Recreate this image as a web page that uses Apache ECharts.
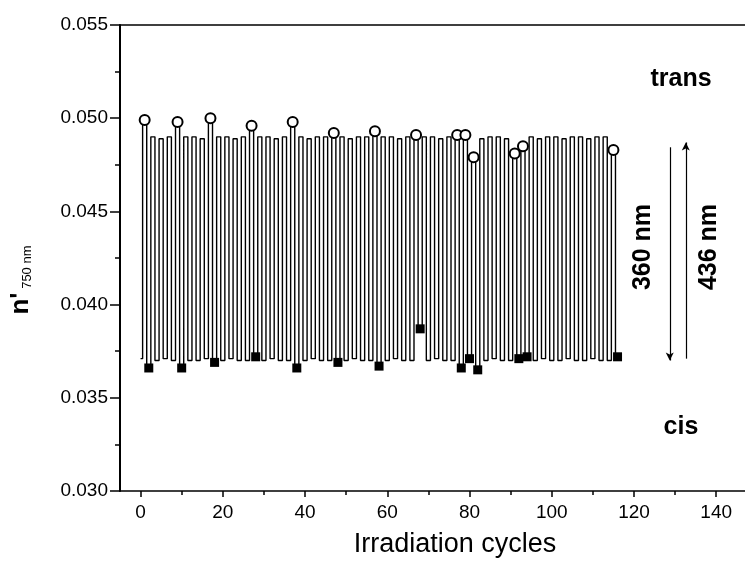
<!DOCTYPE html>
<html>
<head>
<meta charset="UTF-8">
<title>n' 750 nm vs irradiation cycles</title>
<script src="https://cdn.jsdelivr.net/npm/echarts@6/dist/echarts.min.js"></script>
<style>
  html, body { margin: 0; padding: 0; background: #fff; }
  #chart { width: 745px; height: 561px; }
</style>
</head>
<body>
<div id="chart"></div>
<script>
// trans readings (odd cycles 1, 3, ... 115)
var highValues = [
  0.0499, 0.0490, 0.0489, 0.0490, 0.0498, 0.0490, 0.0490, 0.0489, 0.0500, 0.0490,
  0.0490, 0.0489, 0.0490, 0.0496, 0.0490, 0.0490, 0.0489, 0.0490, 0.0498, 0.0490,
  0.0489, 0.0490, 0.0490, 0.0492, 0.0490, 0.0489, 0.0490, 0.0490, 0.0493, 0.0490,
  0.0490, 0.0489, 0.0490, 0.0491, 0.0490, 0.0490, 0.0489, 0.0490, 0.0491, 0.0491,
  0.0479, 0.0489, 0.0490, 0.0490, 0.0489, 0.0481, 0.0485, 0.0490, 0.0489, 0.0490,
  0.0490, 0.0489, 0.0490, 0.0490, 0.0489, 0.0490, 0.0490, 0.0483
];
// cis readings (even cycles 0, 2, ... 116)
var lowValues = [
  0.0371, 0.0366, 0.0370, 0.0371, 0.0370, 0.0366, 0.0370, 0.0370, 0.0371, 0.0369,
  0.0370, 0.0371, 0.0370, 0.0370, 0.0372, 0.0370, 0.0371, 0.0370, 0.0370, 0.0366,
  0.0370, 0.0371, 0.0370, 0.0370, 0.0369, 0.0370, 0.0371, 0.0370, 0.0370, 0.0367,
  0.0370, 0.0371, 0.0370, 0.0370, 0.0387, 0.0370, 0.0371, 0.0370, 0.0370, 0.0366,
  0.0371, 0.0365, 0.0370, 0.0371, 0.0370, 0.0370, 0.0371, 0.0372, 0.0370, 0.0371,
  0.0370, 0.0370, 0.0371, 0.0370, 0.0370, 0.0371, 0.0370, 0.0370, 0.0372
];
// cycles where a symbol is drawn
var transCycles = [1, 9, 17, 27, 37, 47, 57, 67, 77, 79, 81, 91, 93, 115];
var cisCycles = [2, 10, 18, 28, 38, 48, 58, 68, 78, 80, 82, 92, 94, 116];
var xTickLabels = [0, 20, 40, 60, 80, 100, 120, 140];
var xMinorTicks = [10, 30, 50, 70, 90, 110, 130];

var lineData = [];
for (var c = 0; c <= 116; c++) {
  if (c % 2 == 0) lineData.push([c, lowValues[c / 2]]);
  else lineData.push([c, highValues[(c - 1) / 2]]);
}
var transData = transCycles.map(function (c) { return [c, highValues[(c - 1) / 2]]; });
var cisData = cisCycles.map(function (c) { return [c, lowValues[c / 2]]; });

var FONT = '"Liberation Sans", Arial, sans-serif';
var chart = echarts.init(document.getElementById('chart'));

chart.setOption({
  animation: false,
  grid: { left: 120, right: 0, top: 25, bottom: 70, containLabel: false, outerBoundsMode: 'none' },
  xAxis: [{
    type: 'value', min: -5, max: 147, position: 'bottom',
    splitLine: { show: false },
    axisLine: { show: true, onZero: false, lineStyle: { color: '#000', width: 1.5 } },
    axisTick: { show: true, inside: false, length: 6, customValues: xTickLabels, lineStyle: { color: '#000', width: 1.5 } },
    axisLabel: { show: true, customValues: xTickLabels, color: '#000', fontSize: 19, fontFamily: FONT, margin: 12 },
    name: 'Irradiation cycles', nameLocation: 'middle', nameGap: 40,
    nameTextStyle: { color: '#000', fontSize: 27, fontFamily: FONT, padding: [0, 0, 0, 45] }
  }, {
    type: 'value', min: -5, max: 147, position: 'bottom',
    splitLine: { show: false },
    axisLine: { show: false },
    axisTick: { show: true, length: 4, customValues: xMinorTicks, lineStyle: { color: '#000', width: 1.5 } },
    axisLabel: { show: false }
  }, {
    type: 'value', min: -5, max: 147, position: 'top',
    splitLine: { show: false },
    axisLine: { show: true, onZero: false, lineStyle: { color: '#000', width: 1.5 } },
    axisTick: { show: false },
    axisLabel: { show: false }
  }],
  yAxis: {
    type: 'value', min: 0.030, max: 0.055, interval: 0.005,
    splitLine: { show: false },
    axisLine: { show: true, onZero: false, lineStyle: { color: '#000', width: 2 } },
    axisTick: { show: true, length: 10, lineStyle: { color: '#000', width: 1.5 } },
    minorTick: { show: true, splitNumber: 2, length: 5, lineStyle: { color: '#000', width: 1.5 } },
    axisLabel: {
      color: '#000', fontSize: 19, fontFamily: FONT, margin: 12,
      formatter: function (v) { return v.toFixed(3); }
    },
    name: "{n|n'}{s| 750 nm}", nameLocation: 'middle', nameRotate: 90, nameGap: 86,
    nameTextStyle: {
      padding: [0, 44, 0, 0],
      rich: {
        n: { fontSize: 26, fontWeight: 'bold', fontFamily: FONT, color: '#000' },
        s: { fontSize: 13, fontFamily: FONT, color: '#000', verticalAlign: 'bottom', padding: [12, 0, 0, 0] }
      }
    }
  },
  series: [{
    name: 'cycles', type: 'line', data: lineData, step: 'middle',
    showSymbol: false, symbol: 'none',
    lineStyle: { color: '#000', width: 1.4 },
    markLine: {
      silent: true, animation: false,
      label: { show: false },
      symbolSize: [6, 8],
      lineStyle: { color: '#000', width: 1.2, type: 'solid' },
      data: [
        [{ coord: [128.7, 0.04844], symbol: 'none' }, { coord: [128.7, 0.0370], symbol: 'arrow' }],
        [{ coord: [132.6, 0.0371], symbol: 'none' }, { coord: [132.6, 0.0487], symbol: 'arrow' }]
      ]
    }
  }, {
    name: 'trans', type: 'scatter', data: transData,
    symbol: 'emptyCircle', symbolSize: 10,
    itemStyle: { color: '#000', borderColor: '#000', borderWidth: 1.2, opacity: 1 }, z: 3
  }, {
    name: 'cis', type: 'scatter', data: cisData,
    symbol: 'rect', symbolSize: 9,
    itemStyle: { color: '#000', opacity: 1 }, z: 3
  }],
  graphic: [
    { type: 'text', x: 681, y: 79, style: { text: 'trans', font: 'bold 25px ' + FONT, fill: '#000', align: 'center', verticalAlign: 'middle' } },
    { type: 'text', x: 681, y: 427, style: { text: 'cis', font: 'bold 25px ' + FONT, fill: '#000', align: 'center', verticalAlign: 'middle' } },
    { type: 'text', x: 643, y: 247, rotation: Math.PI / 2, style: { text: '360 nm', font: 'bold 25px ' + FONT, fill: '#000', align: 'center', verticalAlign: 'middle' } },
    { type: 'text', x: 709, y: 247, rotation: Math.PI / 2, style: { text: '436 nm', font: 'bold 25px ' + FONT, fill: '#000', align: 'center', verticalAlign: 'middle' } }
  ]
});
</script>
</body>
</html>
